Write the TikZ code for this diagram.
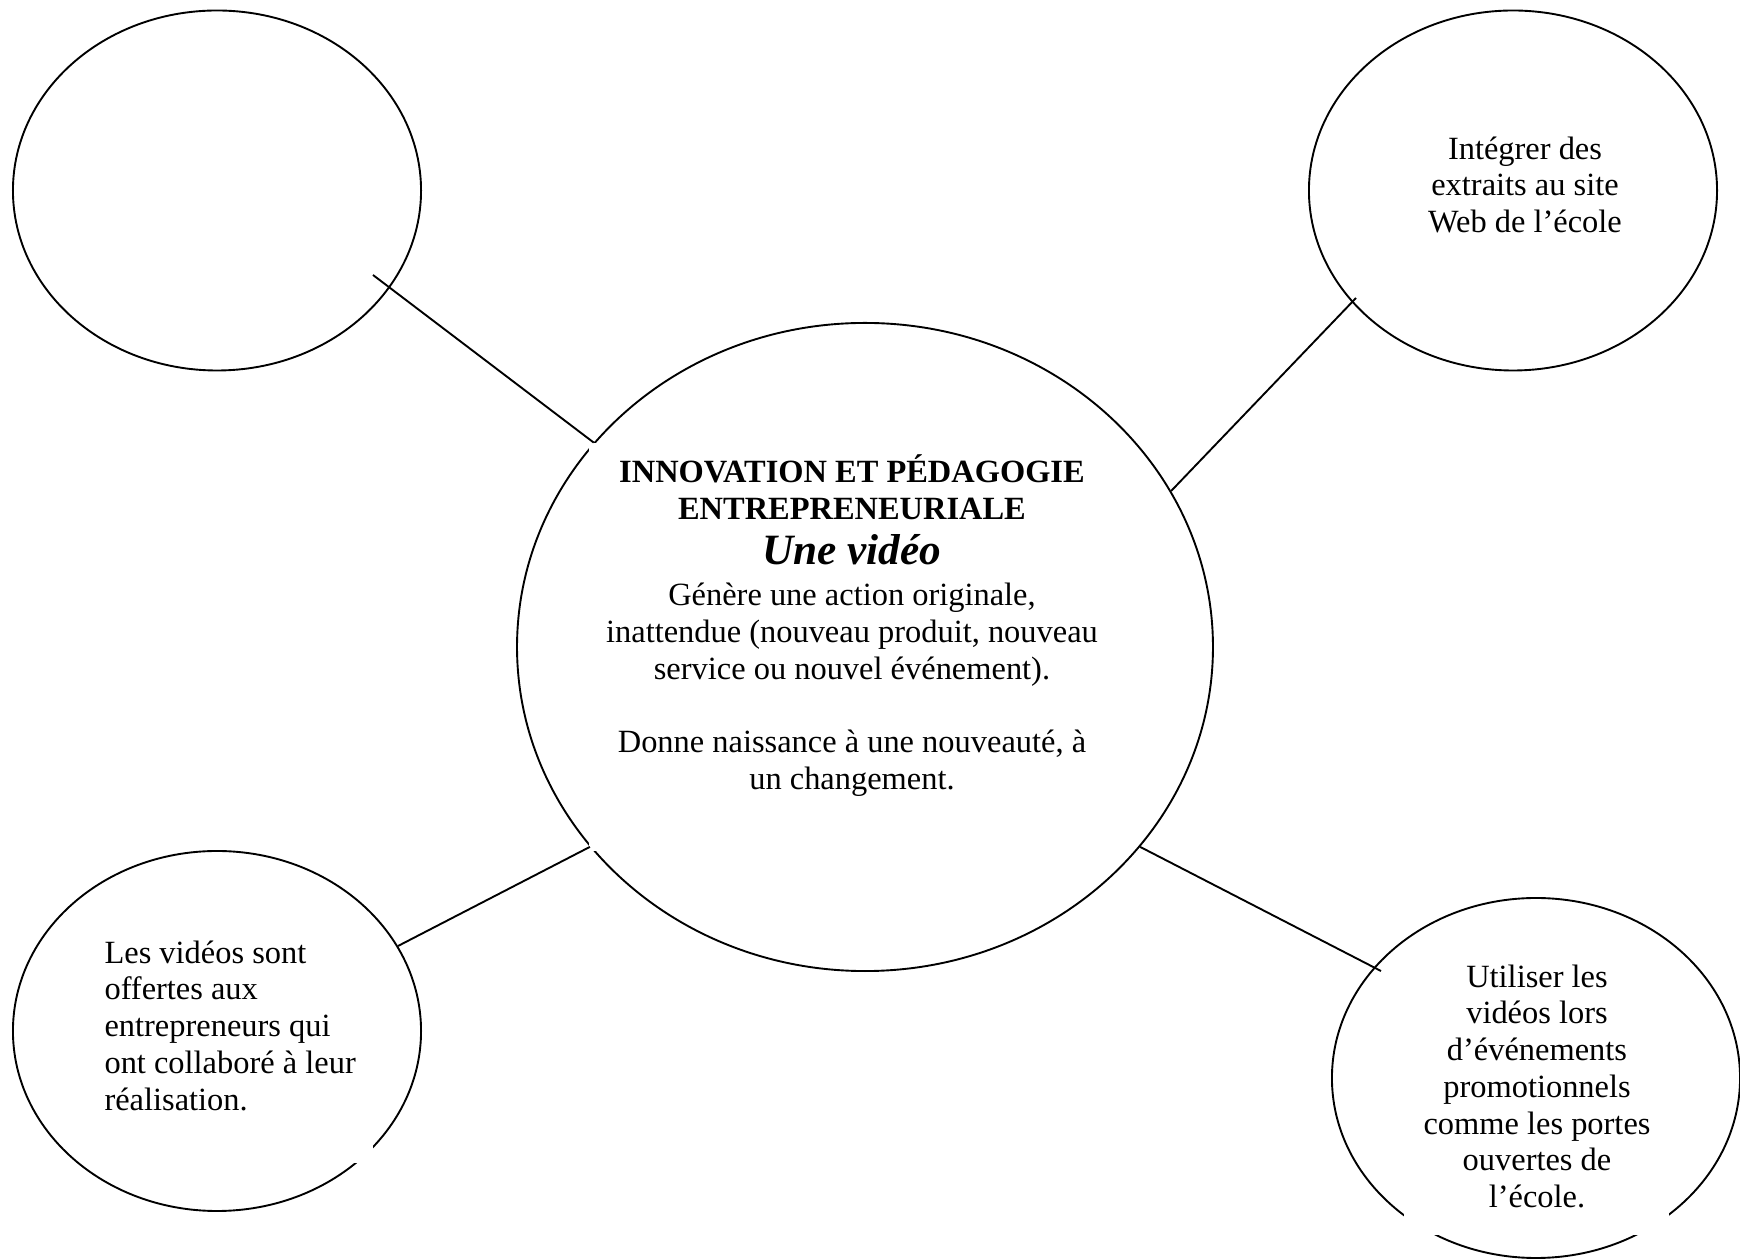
\documentclass[tikz,border=0pt]{standalone}
\usepackage{fontspec}
\setmainfont{Liberation Serif}
\usetikzlibrary{shapes.geometric}

\begin{document}
\begin{tikzpicture}[
		x=0.37pt, y=-0.37pt,
		every node/.style={font=\fontsize{12pt}{13.6pt}\selectfont, inner sep=0pt},
		bubble/.style={draw, ellipse, line width=0.7pt, minimum width=151pt, minimum height=133.2pt},
		hub/.style={bubble, minimum width=257.5pt, minimum height=239.8pt},
		txt/.style={align=center, anchor=north},
		blanking/.style={fill=white},
		link/.style={line width=0.7pt, black}
		]
		\useasboundingbox (0,0) rectangle (1740,1259);
		
		% Bubbles
		\node[hub] (innov) at (865,647) {};
		\node[bubble] (vide) at (217,190.5) {};
		\node[bubble] (web) at (1513,190.5) {};
		\node[bubble] (offre) at (217,1031) {};
		\node[bubble] (promo) at (1536,1078) {};
		
		% text boxes cover the outlines
		\fill[blanking] (589,443) rectangle (1115,851);
		\fill[blanking] (95,925) rectangle (373,1163);
		\fill[blanking] (1404,950) rectangle (1669,1235);
		
		% Links
		\coordinate (vide-tip) at (373,275);
		\coordinate (web-tip) at (1356,298);
		\coordinate (offre-tip) at (398,946);
		\coordinate (promo-tip) at (1381,971);
		\draw[link] (vide-tip) -- (innov.143.5);
		\draw[link] (innov.27.5) -- (web-tip);
		\draw[link] (offre-tip) -- (innov.216.5);
		\draw[link] (innov.-36.5) -- (promo-tip);
		
		% Texts
		\node[txt] (innovtxt) at (852,454) {\textbf{INNOVATION ET PÉDAGOGIE}\\
			\textbf{ENTREPRENEURIALE}\\[3.2pt]
			{\fontsize{16pt}{19pt}\selectfont\bfseries\itshape Une vidéo}\\[1.6pt]
			Génère une action originale,\\
			inattendue (nouveau produit, nouveau\\
			service ou nouvel événement).\\[13.6pt]
			Donne naissance à une nouveauté, à\\
			un changement.};
		\node[txt] (webtxt) at (1525,136) {Intégrer des\\extraits au site\\Web de l’école};
		\node[txt, align=left, anchor=north west] (offretxt) at (104,940) {Les vidéos sont\\offertes aux\\entrepreneurs qui\\ont collaboré à leur\\réalisation.};
		\node[txt] (promotxt) at (1537,964) {Utiliser les\\vidéos lors\\d’événements\\promotionnels\\comme les portes\\ouvertes de\\l’école.};
		
	\end{tikzpicture}
\end{document}
